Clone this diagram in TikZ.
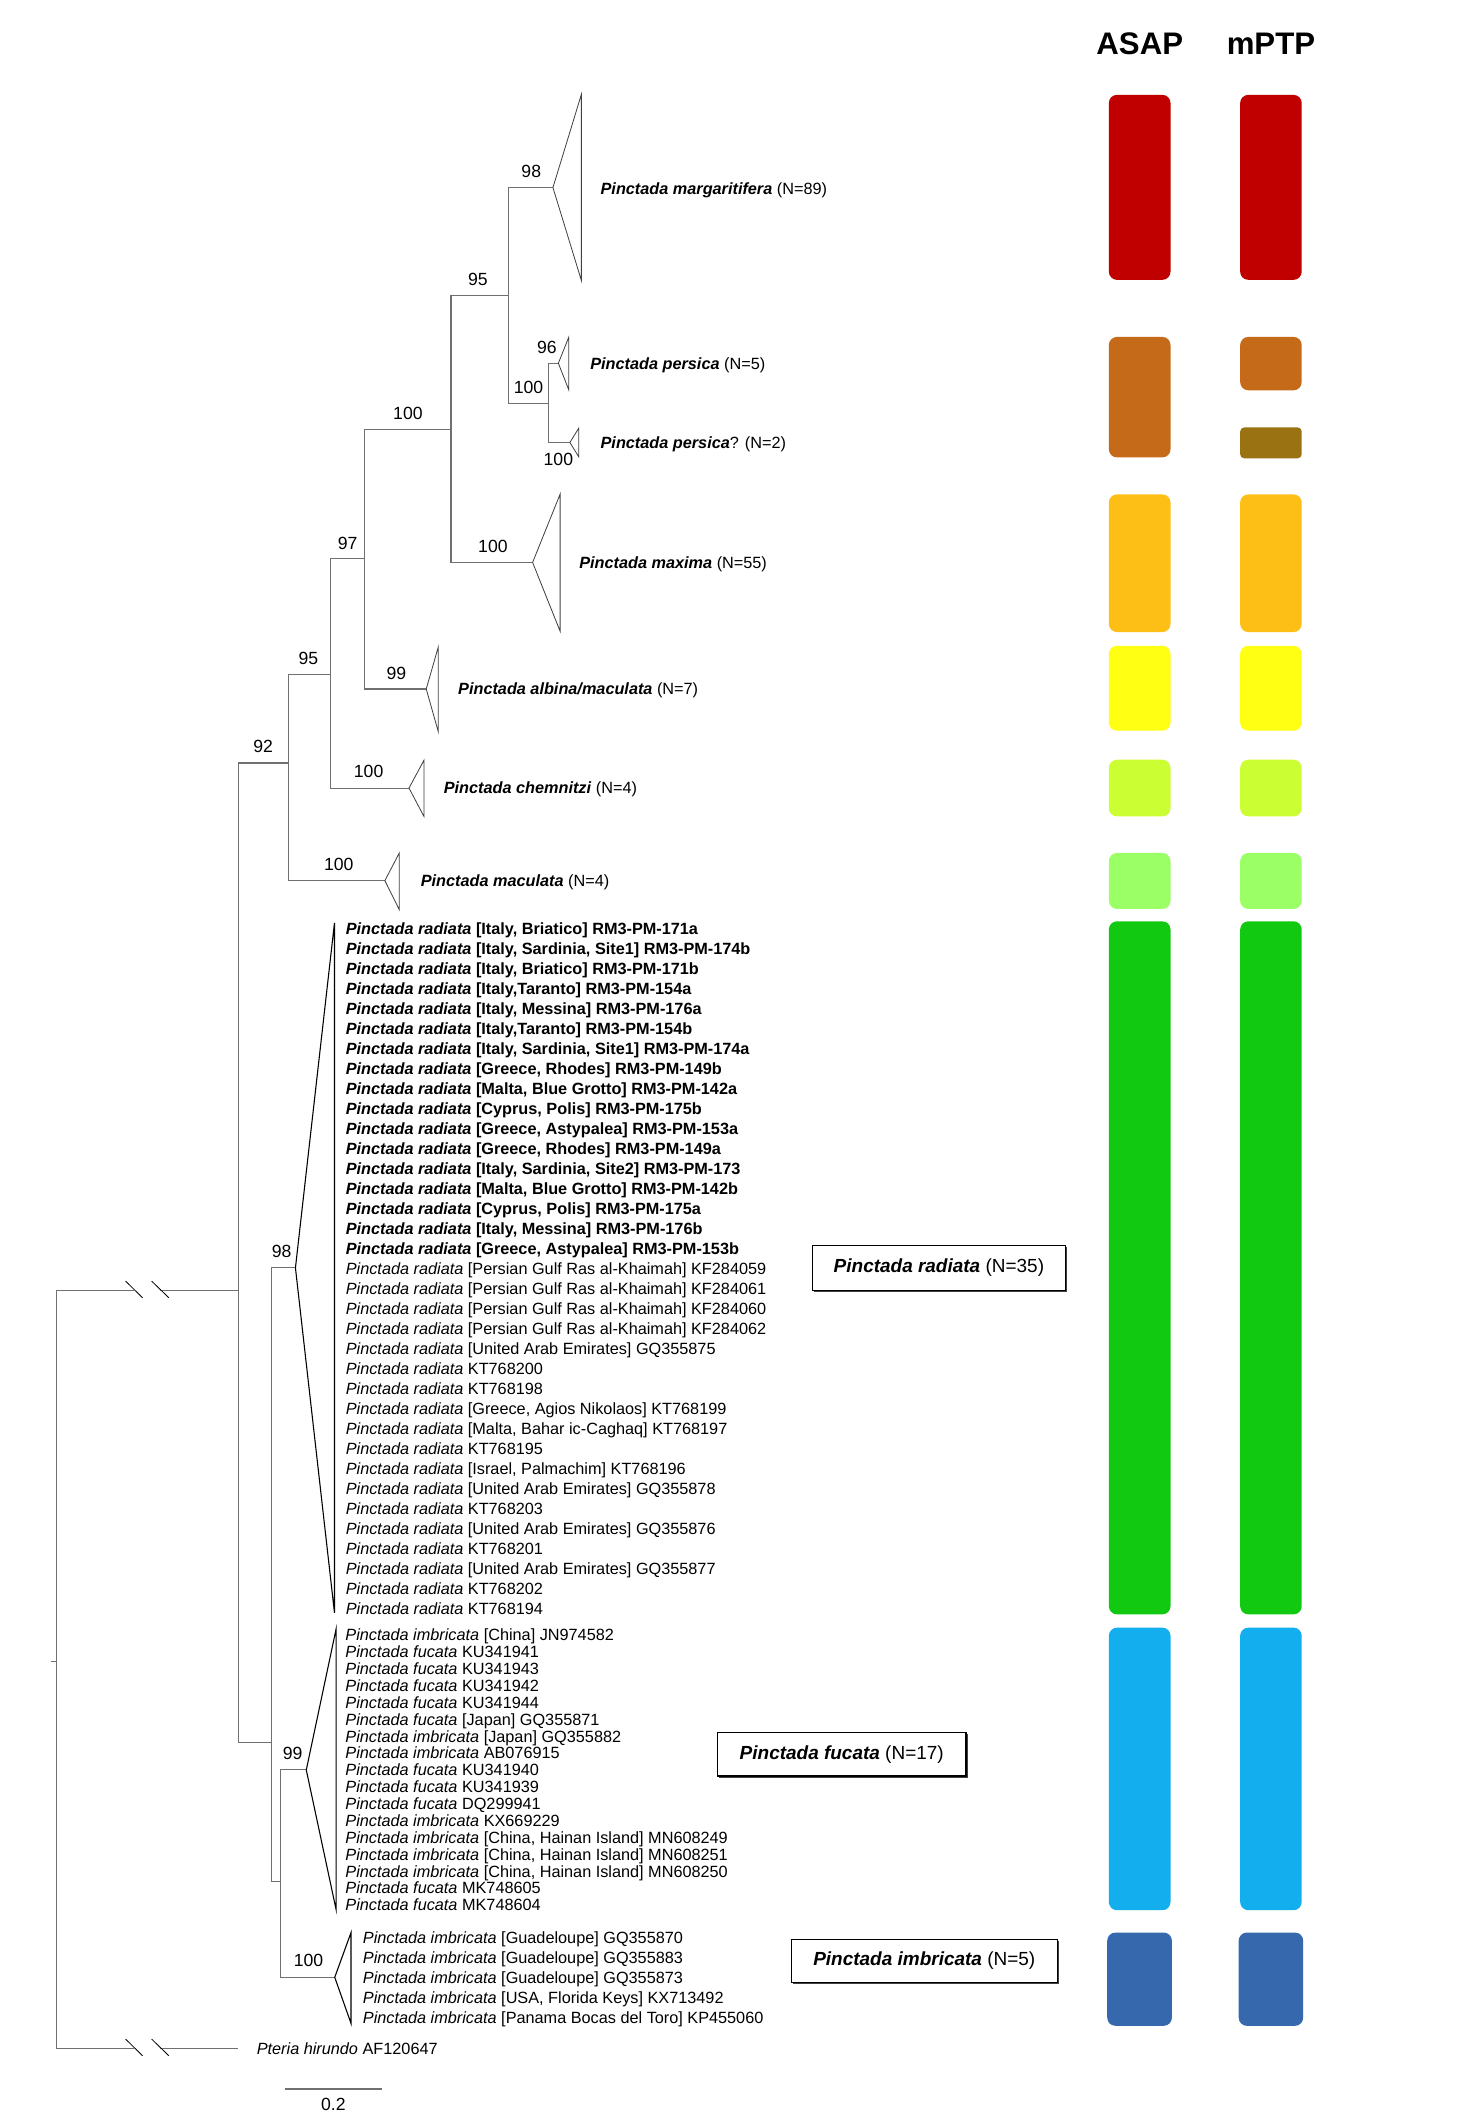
\documentclass[tikz,border=0pt]{standalone}
\usepackage{fontspec}
\setmainfont{Liberation Sans}
\definecolor{cRed}{HTML}{C00000}
\definecolor{cBrown}{HTML}{C56A18}
\definecolor{cOlive}{HTML}{9A7211}
\definecolor{cAmber}{HTML}{FDBE16}
\definecolor{cYellow}{HTML}{FFFF14}
\definecolor{cChart}{HTML}{CCFF33}
\definecolor{cLgreen}{HTML}{9BFF66}
\definecolor{cGreen}{HTML}{12C912}
\definecolor{cLblue}{HTML}{12AEEE}
\definecolor{cDblue}{HTML}{3668AD}
\definecolor{branch}{HTML}{707070}
\definecolor{wedgecol}{HTML}{404040}
\begin{document}
\begin{tikzpicture}[x=1pt,y=-1pt,
  br/.style={draw=branch, line width=0.8pt},
  wedge/.style={draw=wedgecol, line width=0.6pt, line join=miter},
  bigwedge/.style={draw=black, line width=0.8pt, line join=miter},
  brk/.style={draw=black, line width=0.6pt},
  bs/.style={font=\fontsize{13}{15}\selectfont, inner sep=0pt},
  tip/.style={font=\fontsize{12}{14}\selectfont, inner sep=0pt, anchor=base west},
  head/.style={font=\fontsize{23}{26}\selectfont\bfseries, inner sep=0pt, anchor=base},
  bar/.style={rounded corners=6pt},
  cbox/.style={draw=black, line width=1pt, fill=white, inner sep=0pt,
     font=\fontsize{14}{16}\selectfont},
  shadowbox/.style={fill=black!70, inner sep=0pt}]
\useasboundingbox (0,0) rectangle (1085,1568);

% ---------- headers ----------
\node[head] (hASAP) at (841,40.2) {ASAP};
\node[head] (hmPTP) at (937.8,40.2) {mPTP};

% ---------- bars ----------
\fill[bar, cRed]   (818.2,70) rectangle (863.7,206.5);
\fill[bar, cRed]   (915.1,70) rectangle (960.5,206.5);
\fill[bar, cBrown] (818.2,248.6) rectangle (863.7,337.5);
\fill[bar, cBrown] (915.1,248.6) rectangle (960.5,288);
\fill[bar, cOlive, rounded corners=3pt] (915.1,315.4) rectangle (960.5,338.2);
\fill[bar, cAmber] (818.2,364.8) rectangle (863.7,466.4);
\fill[bar, cAmber] (915.1,364.8) rectangle (960.5,466.4);
\fill[bar, cYellow] (818.2,476.5) rectangle (863.7,539.2);
\fill[bar, cYellow] (915.1,476.5) rectangle (960.5,539.2);
\fill[bar, cChart] (818.2,560.6) rectangle (863.7,602.4);
\fill[bar, cChart] (915.1,560.6) rectangle (960.5,602.4);
\fill[bar, cLgreen] (818.2,629.4) rectangle (863.7,670.7);
\fill[bar, cLgreen] (915.1,629.4) rectangle (960.5,670.7);
\fill[bar, cGreen] (818.2,679.8) rectangle (863.7,1191.2);
\fill[bar, cGreen] (915.1,679.8) rectangle (960.5,1191.2);
\fill[bar, cLblue] (818.2,1201) rectangle (863.7,1409.5);
\fill[bar, cLblue] (915.1,1201) rectangle (960.5,1409.5);
\fill[bar, cDblue] (817,1426) rectangle (864.7,1494.8);
\fill[bar, cDblue] (914,1426) rectangle (961.6,1494.8);

% ---------- tree coordinates ----------
\coordinate (Rtop) at (41.6,952.2);
\coordinate (Rbot) at (41.6,1511.5);
\coordinate (Rmid) at (41.6,1226);
\coordinate (Rstub) at (38,1226);
\coordinate (A) at (175.8,952.2);
\coordinate (B) at (213.2,563);
\coordinate (C) at (200.4,1286);
\coordinate (D) at (243.7,497.4);
\coordinate (E) at (269.2,412);
\coordinate (F) at (332.8,317);
\coordinate (G) at (375,218);
\coordinate (H) at (405,297.5);
\coordinate (I) at (207,1388);
\coordinate (tMac) at (284,649.8);
\coordinate (tChe) at (301.8,581.5);
\coordinate (tAlb) at (314.5,508.4);
\coordinate (tMax) at (393,415);
\coordinate (tMar) at (408,138.4);
\coordinate (tPer) at (412,268);
\coordinate (tPq) at (420.5,326.5);
\coordinate (tRad) at (218,935.5);
\coordinate (tFuc) at (226,1306);
\coordinate (tImb) at (247,1459);
\coordinate (tPt) at (175.8,1511.5);
\coordinate (bk1) at (98.9,952.2);
\coordinate (bk2) at (118.3,952.2);
\coordinate (bk3) at (98.9,1511.5);
\coordinate (bk4) at (118.3,1511.5);

% ---------- branches ----------
\draw[br] (Rstub) -- (Rmid);
\draw[br] (Rtop) -- (Rbot);
\draw[br] (Rtop) -- (bk1);
\draw[br] (bk2) -- (A);
\draw[br] (Rbot) -- (bk3);
\draw[br] (bk4) -- (tPt);
\draw[brk] (92.7,945.3) -- (105.2,957.6);
\draw[brk] (111.9,945.3) -- (124.6,957.6);
\draw[brk] (92.7,1504.6) -- (105.2,1516.9);
\draw[brk] (111.9,1504.6) -- (124.6,1516.9);

\draw[br] (A) |- (B);
\draw[br] (A) |- (C);
\draw[br] (B) |- (D);
\draw[br] (B) |- (tMac);
\draw[br] (D) |- (E);
\draw[br] (D) |- (tChe);
\draw[br] (E) |- (F);
\draw[br] (E) |- (tAlb);
\draw[br] (F) |- (G);
\draw[br] (F) |- (tMax);
\draw[br] (G) |- (tMar);
\draw[br] (G) |- (H);
\draw[br] (H) |- (tPer);
\draw[br] (H) |- (tPq);
\draw[br] (C) |- (tRad);
\draw[br] (C) |- (I);
\draw[br] (I) |- (tFuc);
\draw[br] (I) |- (tImb);

% ---------- collapsed clades ----------
\draw[wedge] (tMar) -- (429,69.6) -- (429,207) -- cycle;
\draw[wedge] (tPer) -- (419.7,248.8) -- (419.7,287.7) -- cycle;
\draw[wedge] (tPq) -- (427,316) -- (427,337) -- cycle;
\draw[wedge] (tMax) -- (413.3,364.6) -- (413.3,465.8) -- cycle;
\draw[wedge] (tAlb) -- (323.4,477.4) -- (323.4,539.9) -- cycle;
\draw[wedge] (tChe) -- (312.8,561) -- (312.8,602.4) -- cycle;
\draw[wedge] (tMac) -- (294.6,629.4) -- (294.6,671.2) -- cycle;
\draw[bigwedge] (tRad) -- (246.8,681) -- (246.8,1190) -- cycle;
\draw[bigwedge] (tFuc) -- (248,1202) -- (248,1409) -- cycle;
\draw[bigwedge] (tImb) -- (259,1426) -- (259,1493) -- cycle;

% ---------- bootstrap values ----------
\node[bs] (b1) at (392,126.6) {98};
\node[bs] (b2) at (352.7,206) {95};
\node[bs] (b3) at (403.6,256.5) {96};
\node[bs] (b4) at (390,285.7) {100};
\node[bs] (b5) at (412,339) {100};
\node[bs] (b6) at (301,305) {100};
\node[bs] (b7) at (256.5,400.7) {97};
\node[bs] (b8) at (363.7,403.3) {100};
\node[bs] (b9) at (292.5,497) {99};
\node[bs] (b10) at (227.6,485.6) {95};
\node[bs] (b11) at (272,569) {100};
\node[bs] (b12) at (194.2,550.7) {92};
\node[bs] (b13) at (250,637.5) {100};
\node[bs] (b14) at (207.8,923.2) {98};
\node[bs] (b15) at (216,1294) {99};
\node[bs] (b16) at (227.7,1446.9) {100};

% ---------- clade labels ----------
\node[tip] (lMar) at (443,143.4) {\textbf{\textit{Pinctada margaritifera}} (N=89)};
\node[tip] (lPer) at (435.4,272.3) {\textbf{\textit{Pinctada persica}} (N=5)};
\node[tip] (lPq) at (443,330.8) {\textbf{\textit{Pinctada persica}}? (N=2)};
\node[tip] (lMax) at (427.3,419.3) {\textbf{\textit{Pinctada maxima}} (N=55)};
\node[tip] (lAlb) at (337.9,512.7) {\textbf{\textit{Pinctada albina/maculata}} (N=7)};
\node[tip] (lChe) at (327.3,585.8) {\textbf{\textit{Pinctada chemnitzi}} (N=4)};
\node[tip] (lMac) at (310.3,654.1) {\textbf{\textit{Pinctada maculata}} (N=4)};

% ---------- Pinctada radiata tips ----------
\foreach \t [count=\i from 0] in {%
  {[Italy, Briatico] RM3-PM-171a},
  {[Italy, Sardinia, Site1] RM3-PM-174b},
  {[Italy, Briatico] RM3-PM-171b},
  {[Italy,Taranto] RM3-PM-154a},
  {[Italy, Messina] RM3-PM-176a},
  {[Italy,Taranto] RM3-PM-154b},
  {[Italy, Sardinia, Site1] RM3-PM-174a},
  {[Greece, Rhodes] RM3-PM-149b},
  {[Malta, Blue Grotto] RM3-PM-142a},
  {[Cyprus, Polis] RM3-PM-175b},
  {[Greece, Astypalea] RM3-PM-153a},
  {[Greece, Rhodes] RM3-PM-149a},
  {[Italy, Sardinia, Site2] RM3-PM-173},
  {[Malta, Blue Grotto] RM3-PM-142b},
  {[Cyprus, Polis] RM3-PM-175a},
  {[Italy, Messina] RM3-PM-176b},
  {[Greece, Astypalea] RM3-PM-153b}}
  \node[tip] (radB\i) at (255,{689.5+14.76*\i}) {\textbf{\textit{Pinctada radiata} \t}};

\foreach \t [count=\i from 17] in {%
  {[Persian Gulf Ras al-Khaimah] KF284059},
  {[Persian Gulf Ras al-Khaimah] KF284061},
  {[Persian Gulf Ras al-Khaimah] KF284060},
  {[Persian Gulf Ras al-Khaimah] KF284062},
  {[United Arab Emirates] GQ355875},
  {KT768200},
  {KT768198},
  {[Greece, Agios Nikolaos] KT768199},
  {[Malta, Bahar ic-Caghaq] KT768197},
  {KT768195},
  {[Israel, Palmachim] KT768196},
  {[United Arab Emirates] GQ355878},
  {KT768203},
  {[United Arab Emirates] GQ355876},
  {KT768201},
  {[United Arab Emirates] GQ355877},
  {KT768202},
  {KT768194}}
  \node[tip] (radR\i) at (255,{689.5+14.76*\i}) {\textit{Pinctada radiata} \t};

% ---------- Pinctada fucata tips ----------
\foreach \s/\t [count=\i from 0] in {%
  imbricata/{[China] JN974582},
  fucata/{KU341941},
  fucata/{KU341943},
  fucata/{KU341942},
  fucata/{KU341944},
  fucata/{[Japan] GQ355871},
  imbricata/{[Japan] GQ355882},
  imbricata/{AB076915},
  fucata/{KU341940},
  fucata/{KU341939},
  fucata/{DQ299941},
  imbricata/{KX669229},
  imbricata/{[China, Hainan Island] MN608249},
  imbricata/{[China, Hainan Island] MN608251},
  imbricata/{[China, Hainan Island] MN608250},
  fucata/{MK748605},
  fucata/{MK748604}}
  \node[tip] (fuc\i) at (254.7,{1210.7+12.45*\i}) {\textit{Pinctada \s} \t};

% ---------- Pinctada imbricata tips ----------
\foreach \t [count=\i from 0] in {%
  {[Guadeloupe] GQ355870},
  {[Guadeloupe] GQ355883},
  {[Guadeloupe] GQ355873},
  {[USA, Florida Keys] KX713492},
  {[Panama Bocas del Toro] KP455060}}
  \node[tip] (imb\i) at (267.6,{1434.4+14.62*\i}) {\textit{Pinctada imbricata} \t};

% ---------- outgroup ----------
\node[tip] (lPt) at (189.3,1515.8) {\textit{Pteria hirundo} AF120647};

% ---------- species boxes ----------
\fill[black!75] (600.6,920.2) rectangle (787.4,953.2);
\node[cbox, minimum width=186.8pt, minimum height=33pt] (boxRad) at (692.8,935.5)
  {\textbf{\textit{Pinctada radiata}} (N=35)};
\fill[black!75] (530.7,1279.7) rectangle (713.9,1311.6);
\node[cbox, minimum width=183.2pt, minimum height=31.9pt] (boxFuc) at (621.1,1294.5)
  {\textbf{\textit{Pinctada fucata}} (N=17)};
\fill[black!75] (585.1,1432.2) rectangle (781.3,1464.2);
\node[cbox, minimum width=196.2pt, minimum height=32pt] (boxImb) at (682,1447)
  {\textbf{\textit{Pinctada imbricata}} (N=5)};

% ---------- scale bar ----------
\coordinate (sb1) at (210.2,1541.5);
\coordinate (sb2) at (282,1541.5);
\draw[draw=branch, line width=1.2pt] (sb1) -- (sb2);
\node[bs] (sbl) at (246,1552.5) {0.2};
\end{tikzpicture}
\end{document}
